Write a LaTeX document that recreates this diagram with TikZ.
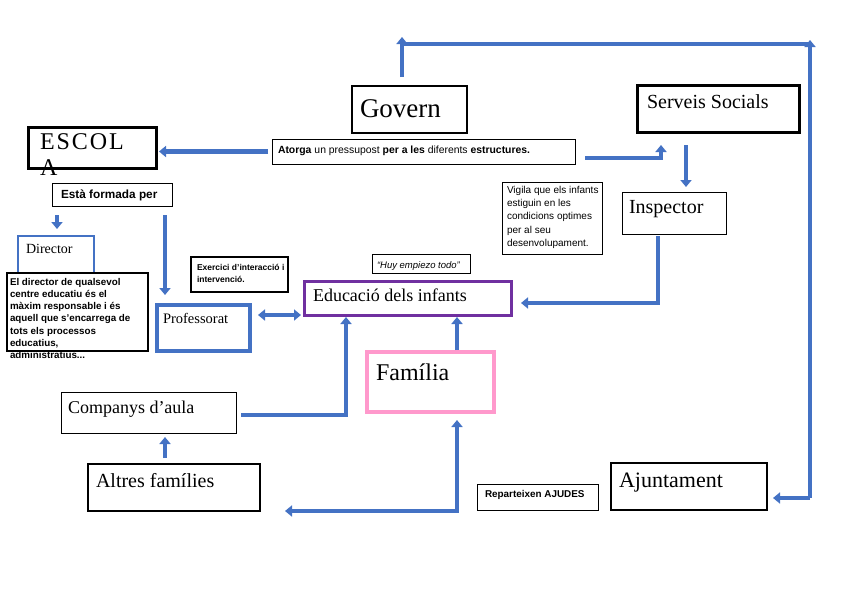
\documentclass[tikz,border=0pt]{standalone}
\usepackage{fontspec}
\setmainfont{Liberation Serif}
\newfontfamily\arialf{Liberation Sans}
\usetikzlibrary{arrows.meta,calc}
\definecolor{ablue}{HTML}{4472C4}
\definecolor{apurple}{HTML}{7030A0}
\definecolor{apink}{HTML}{FF99CC}
\newcommand{\mlines}[1]{\vtop{\halign{##\hfil\cr#1\crcr}}}
\newcommand{\fs}[2]{\fontsize{#1}{#2}\selectfont}
\begin{document}
\begin{tikzpicture}[x=1pt,y=-1pt,
  bx/.style={draw,anchor=north west,inner sep=0pt,outer sep=0pt,fill=white},
  tx/.style={anchor=base west,inner sep=0pt,outer sep=0pt},
  sf/.style={tx,font=\arialf},
  arr/.style={draw=ablue,line width=4.5pt,-{Triangle[width=11pt,length=7pt]}},
  darr/.style={draw=ablue,line width=4.5pt,{Triangle[width=11pt,length=7pt]}-{Triangle[width=11pt,length=7pt]}},
  ln/.style={draw=ablue,line width=4.5pt,line join=miter},
]
\fill[white] (0,0) rectangle (848,600);
\useasboundingbox (0,0) rectangle (848,600);

% boxes
\node[bx,line width=3pt,minimum width=128pt,minimum height=41pt] (escola) at (28,127) {};
\node[bx,line width=1.2pt,minimum width=115pt,minimum height=47pt] (govern) at (352,86) {};
\node[bx,line width=3pt,minimum width=162pt,minimum height=47pt] (serveis) at (637,85) {};
\node[bx,line width=1pt,minimum width=303pt,minimum height=25pt] (atorga) at (272,139) {};
\node[bx,line width=1pt,minimum width=120pt,minimum height=23pt] (esta) at (52,183) {};
\node[bx,draw=ablue,line width=2pt,minimum width=76pt,minimum height=50pt] (director) at (18,236) {};
\node[bx,line width=1.2pt,minimum width=141pt,minimum height=78pt] (eldir) at (7,273) {};
\node[bx,line width=1.6pt,minimum width=97pt,minimum height=35pt] (exercici) at (191,257) {};
\node[bx,draw=ablue,line width=4pt,minimum width=93pt,minimum height=46pt] (prof) at (157,305) {};
\node[bx,draw=apurple,line width=3pt,minimum width=207pt,minimum height=34pt] (educ) at (304,281) {};
\node[bx,line width=0.8pt,minimum width=98pt,minimum height=19pt] (huy) at (372,254) {};
\node[bx,line width=1pt,minimum width=100pt,minimum height=72pt] (vigila) at (502,182) {};
\node[bx,line width=1pt,minimum width=104pt,minimum height=42pt] (inspector) at (622,192) {};
\node[bx,draw=apink,line width=4pt,minimum width=127pt,minimum height=60pt] (familia) at (367,352) {};
\node[bx,line width=1pt,minimum width=175pt,minimum height=41pt] (companys) at (61,392) {};
\node[bx,line width=2.5pt,minimum width=172pt,minimum height=47pt] (altres) at (88,464) {};
\node[bx,line width=1pt,minimum width=121pt,minimum height=26pt] (repart) at (477,484) {};
\node[bx,line width=2.5pt,minimum width=156pt,minimum height=47pt] (ajunt) at (611,463) {};

% texts
\node[tx,font=\fs{24}{26}\addfontfeatures{LetterSpace=8}] (escolaT) at (40,149) {\mlines{ESCOL\cr A}};
\node[tx,font=\fs{27}{30}] (governT) at (360,117) {Govern};
\node[tx,font=\fs{20}{24}] (serveisT) at (647,108) {Serveis Socials};
\node[sf,font=\arialf\fs{10.4}{12}] (atorgaT) at (278,153) {\textbf{Atorga} un pressupost \textbf{per a les} diferents \textbf{estructures.}};
\node[sf,font=\arialf\bfseries\fs{11.8}{13}] (estaT) at (61,198) {Està formada per};
\node[tx,font=\fs{14}{16}] (directorT) at (26,253) {Director};
\node[sf,font=\arialf\bfseries\fs{9.8}{12.3}] (eldirT) at (10,285) {\mlines{El director de qualsevol\cr centre educatiu és el\cr màxim responsable i és\cr aquell que s’encarrega de\cr tots els processos\cr educatius,\cr administratius...}};
\node[sf,font=\arialf\bfseries\fs{8.5}{12.7}] (exerciciT) at (197,270) {\mlines{Exercici d’interacció i\cr intervenció.}};
\node[tx,font=\fs{14.5}{16}] (profT) at (163,323) {Professorat};
\node[tx,font=\fs{18}{20}] (educT) at (313,301) {Educació dels infants};
\node[sf,font=\arialf\itshape\fs{9.5}{11}] (huyT) at (377,268) {“Huy empiezo todo”};
\node[sf,font=\arialf\fs{10}{13.4}] (vigilaT) at (507,193) {\mlines{Vigila que els infants\cr estiguin en les\cr condicions optimes\cr per al seu\cr desenvolupament.}};
\node[tx,font=\fs{20}{22}] (inspectorT) at (629,213) {Inspector};
\node[tx,font=\fs{24}{26}] (familiaT) at (376,380) {Família};
\node[tx,font=\fs{18}{20}] (companysT) at (68,413) {Companys d’aula};
\node[tx,font=\fs{20}{22}] (altresT) at (96,487) {Altres famílies};
\node[sf,font=\arialf\bfseries\fs{9.9}{11}] (repartT) at (485,497) {Reparteixen AJUDES};
\node[tx,font=\fs{22}{24}] (ajuntT) at (619,487) {Ajuntament};

% coordinates
\coordinate (gtop) at (402,44);
\coordinate (rtop) at (810,44);
\coordinate (rbot) at (810,498);
\coordinate (ss1) at (661,158);
\coordinate (cSI) at (686,0);
\coordinate (ie) at (658,303);
\coordinate (cDir) at (57,0);
\coordinate (cProf) at (165,0);
\coordinate (pe) at (0,315);
\coordinate (ce1) at (241,415);
\coordinate (ce2) at (346,415);
\coordinate (cFam) at (457,0);
\coordinate (fb) at (457,511);

% connectors
\draw[arr] ($(govern.north -| gtop)+(0,-9)$) -- ($(gtop)+(0,-7)$);
\draw[ln] (gtop) -- (rtop) -- (rbot);
\draw[arr] ($(rtop)+(0,4)$) -- ($(rtop)+(0,-4)$);
\draw[arr] (rbot) -- ($(ajunt.east |- rbot)+(6,0)$);
\draw[arr] ($(atorga.west)+(-4,0)$) -- ($(escola.east |- atorga.west)+(3,0)$);
\draw[arr] ($(atorga.east |- ss1)+(10,0)$) -- (ss1) -- ($(serveis.south -| ss1)+(0,13)$);
\draw[arr] ($(serveis.south -| cSI)+(0,13)$) -- ($(inspector.north -| cSI)+(0,-5)$);
\draw[arr] ($(inspector.south -| ie)+(0,2)$) -- (ie) -- ($(educ.east |- ie)+(10,0)$);
\draw[arr] ($(esta.south -| cDir)+(0,9)$) -- ($(director.north -| cDir)+(0,-7)$);
\draw[arr] ($(esta.south -| cProf)+(0,9)$) -- ($(prof.north -| cProf)+(0,-10)$);
\draw[darr] ($(prof.east |- pe)+(8,0)$) -- ($(educ.west |- pe)+(-3,0)$);
\draw[arr] (ce1) -- (ce2) -- ($(educ.south -| ce2)+(0,2)$);
\draw[arr] ($(familia.north -| cFam)+(0,-2)$) -- ($(educ.south -| cFam)+(0,2)$);
\draw[arr] ($(altres.north -| cProf)+(0,-6)$) -- ($(companys.south -| cProf)+(0,4)$);
\draw[darr] ($(altres.east |- fb)+(25,0)$) -- (fb) -- ($(familia.south -| fb)+(0,8)$);
\end{tikzpicture}
\end{document}
